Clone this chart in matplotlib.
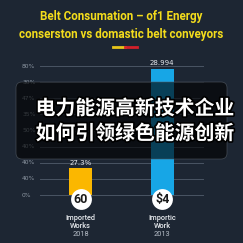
import matplotlib
matplotlib.use("Agg")
import matplotlib.pyplot as plt
import matplotlib.patheffects as pe
from matplotlib.patches import FancyBboxPatch

# ---- data ----
categories = ["Imported\nWorks", "Importic\nWork"]
years = ["2018", "2013"]
values = [16.8, 78.3]
value_labels = ["27.3%", "28.994"]
badge_labels = ["60", "$4"]
grid_values = [0, 10, 20, 30, 40, 50, 60, 70, 80]
tick_labels = ["0%", "40%", "40%", "40%", "50%", "35%", "47%", "30%", "80%"]
title = "Belt Consumation \u2013 of1 Energy\nconserston vs domastic belt conveyors"
overlay_lines = ["电力能源高新技术企业", "如何引领绿色能源创新"]

BG = "#1d2633"
YELLOW = "#fbb700"
BLUE = "#17a6e6"
TITLE_Y = "#f3dc1c"

W = 243
fig = plt.figure(figsize=(2.43, 2.43), dpi=100, facecolor=BG)

def fx(px):
    return px / W

def fy(py):
    return 1 - py / W

ax = fig.add_axes([fx(40), fy(195), fx(163), fy(66) - fy(195)])
ax.set_facecolor("none")
ax.set_xlim(-0.5, 1.5)
ax.set_ylim(0, 80)
for s in ax.spines.values():
    s.set_visible(False)
ax.set_xticks([])
ax.set_yticks([])

for g, lab in zip(grid_values, tick_labels):
    ax.axhline(g, color="#4a5564", lw=0.7, zorder=1, clip_on=False)
    ax.text(-0.72, g, lab, fontsize=4.3, color="#8d97a3", ha="left", va="center")

colors = [YELLOW, BLUE]
xs = list(range(len(values)))
ax.bar(xs, values, width=0.285, color=colors, zorder=2, clip_on=False)

for x, v, lab in zip(xs, values, value_labels):
    ax.text(x, v + 1.4, lab, fontsize=5, color="#e6e9ee", ha="center", va="bottom")

ax.scatter(xs, [-2.6] * len(xs), s=225, color="white", zorder=5, clip_on=False, linewidths=0)
for x, b in zip(xs, badge_labels):
    ax.text(x, -2.6, b, fontsize=9, fontweight="bold", color="#1a1a1a",
            ha="center", va="center", zorder=6, family="Roboto")

for x, c, yr in zip(xs, categories, years):
    ax.text(x, -11.6, c, fontsize=5.3, color="#e8ebef", ha="center", va="top",
            linespacing=1.1, fontweight="medium", family="Roboto")
    ax.text(x, -22.3, yr, fontsize=5.3, color="#b7bec8", ha="center", va="top", family="Roboto")

# title
fig.text(0.5, fy(25.5), title, fontsize=8.4, fontweight="bold", color=TITLE_Y,
         ha="center", va="center", linespacing=1.45, family="Roboto")
fig.add_artist(plt.Line2D([fx(113), fx(125)], [fy(47), fy(47)], color="#e8c51a", lw=2))
fig.add_artist(plt.Line2D([fx(125), fx(137)], [fy(47), fy(47)], color="#d2202a", lw=2))

# overlay box
box = FancyBboxPatch((fx(16), fy(159)), fx(211), fy(82) - fy(159),
                     boxstyle="round,pad=0,rounding_size=0.025",
                     transform=fig.transFigure, facecolor="black", alpha=0.62,
                     edgecolor="#555c66", lw=0.6, zorder=10)
fig.add_artist(box)

for i, line in enumerate(overlay_lines):
    t = fig.text(fx(135), fy(108 + 25 * i), line, fontsize=14.3, fontweight="bold",
                 color="white", ha="center", va="center", family="Noto Sans CJK SC",
                 zorder=11)
    t.set_path_effects([pe.withStroke(linewidth=2.4, foreground="black")])

fig.savefig("out.png", dpi=100, facecolor=BG)
